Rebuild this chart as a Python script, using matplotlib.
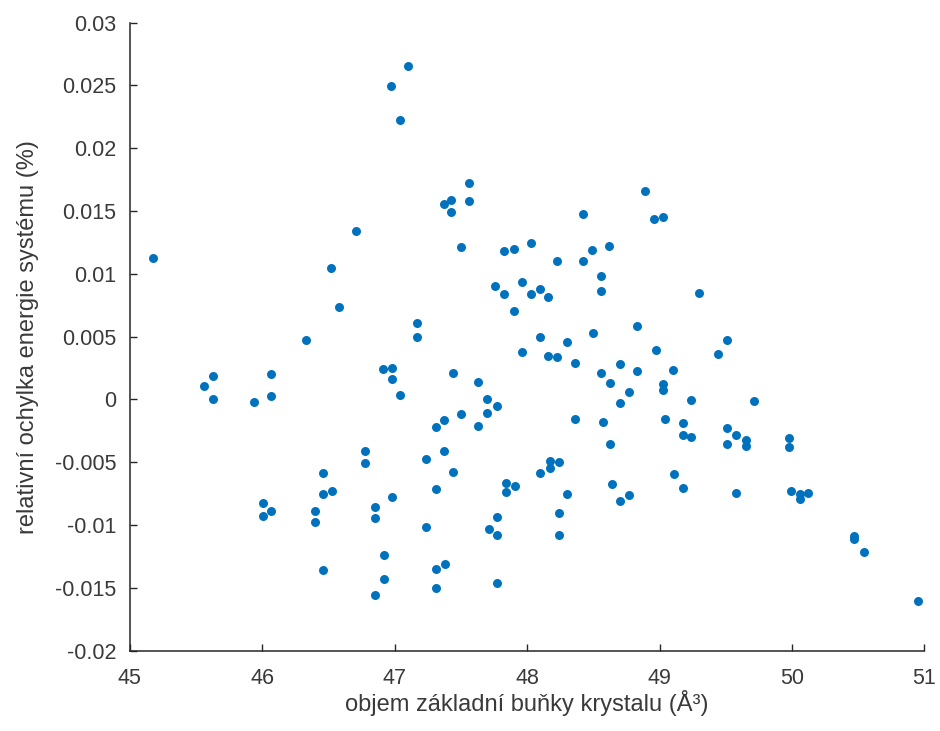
import matplotlib
matplotlib.use('Agg')

import matplotlib.pyplot as plt
from matplotlib.ticker import FuncFormatter

# unit cell volume (A^3) and relative energy deviation (%)
volume = [
    45.18, 45.56, 45.63, 45.63, 45.94, 46.07, 46.07, 46.01, 46.01, 46.07,
    46.33, 46.58, 46.52, 46.71, 46.40, 46.40, 46.46, 46.46, 46.53, 46.46,
    46.78, 46.78, 46.85, 46.85, 46.92, 46.92, 46.85, 46.91, 46.98, 46.98,
    47.04, 46.98, 47.17, 47.17, 46.97, 47.10, 47.04, 47.24, 47.24, 47.31,
    47.31, 47.31, 47.31, 47.37, 47.37, 47.38,
    47.56, 47.37, 47.43, 47.56, 47.43, 47.50, 48.42, 48.89, 48.96, 49.03,
    47.83, 47.90, 48.03, 48.62, 48.49, 48.23, 48.42, 48.56, 48.56, 47.76,
    47.83, 47.96, 48.03, 48.10, 48.16, 47.90, 49.30, 48.83,
    48.50, 48.10, 48.30, 47.96, 48.16, 48.23, 48.36, 48.97, 49.51, 49.44,
    47.44, 47.63, 47.70, 47.77, 47.70, 47.50, 47.63, 48.56, 48.70, 48.83,
    48.63, 48.77, 48.70, 49.10, 49.03, 49.03, 49.24, 49.71, 48.36, 48.57,
    48.63, 49.04, 49.18, 49.18, 49.24, 49.51, 49.58, 49.65, 49.65, 49.51,
    49.98, 49.98, 47.44, 48.17, 48.24, 48.17, 48.10, 47.84, 47.91, 47.84,
    48.30, 48.64, 48.77, 48.70, 49.11, 49.18, 49.58, 49.99, 50.06, 50.06,
    50.12, 47.77, 47.71, 47.77, 48.24, 48.24, 47.77, 50.47, 50.47, 50.54,
    50.95,
]
deviation = [
    0.01130, 0.00108, 0.00188, 0.00002, -0.00019, 0.00204, 0.00026, -0.00828, -0.00930, -0.00887,
    0.00470, 0.00733, 0.01044, 0.01343, -0.00892, -0.00975, -0.00587, -0.00749, -0.00730, -0.01354,
    -0.00412, -0.00505, -0.00860, -0.00943, -0.01240, -0.01426, -0.01557, 0.00241, 0.00252, 0.00159,
    0.00034, -0.00773, 0.00605, 0.00499, 0.02496, 0.02655, 0.02225, -0.00476, -0.01015, -0.00223,
    -0.00715, -0.01349, -0.01498, -0.00163, -0.00414, -0.01310,
    0.01725, 0.01556, 0.01585, 0.01582, 0.01490, 0.01216, 0.01476, 0.01659, 0.01436, 0.01450,
    0.01181, 0.01195, 0.01245, 0.01224, 0.01187, 0.01104, 0.01102, 0.00980, 0.00863, 0.00900,
    0.00841, 0.00937, 0.00841, 0.00879, 0.00813, 0.00706, 0.00847, 0.00584,
    0.00528, 0.00494, 0.00456, 0.00379, 0.00343, 0.00335, 0.00287, 0.00395, 0.00472, 0.00363,
    0.00210, 0.00138, 0.00000, -0.00056, -0.00104, -0.00112, -0.00215, 0.00212, 0.00279, 0.00223,
    0.00130, 0.00061, -0.00032, 0.00233, 0.00127, 0.00074, -0.00006, -0.00014, -0.00157, -0.00178,
    -0.00354, -0.00157, -0.00186, -0.00282, -0.00300, -0.00231, -0.00282, -0.00324, -0.00370, -0.00358,
    -0.00306, -0.00380, -0.00577, -0.00486, -0.00499, -0.00545, -0.00589, -0.00669, -0.00691, -0.00733,
    -0.00752, -0.00677, -0.00757, -0.00810, -0.00597, -0.00704, -0.00746, -0.00725, -0.00749, -0.00789,
    -0.00744, -0.00938, -0.01033, -0.01081, -0.00903, -0.01081, -0.01463, -0.01089, -0.01109, -0.01214,
    -0.01604,
]

x_ticks = [45, 46, 47, 48, 49, 50, 51]
y_ticks = [-0.02, -0.015, -0.01, -0.005, 0, 0.005, 0.01, 0.015, 0.02, 0.025, 0.03]

plt.rcParams['font.family'] = ['Liberation Sans', 'DejaVu Sans']
plt.rcParams['axes.unicode_minus'] = False

axis_col = '#262626'
text_col = '#3a3a3a'
fig = plt.figure(figsize=(9.4, 7.31), dpi=100)
ax = fig.add_axes([0.1378, 0.1099, 0.8457, 0.8591])

ax.scatter(volume, deviation, s=42, color='#0072BD', linewidths=0, zorder=3)

ax.set_xlim(45, 51)
ax.set_ylim(-0.02, 0.03)
ax.set_xticks(x_ticks)
ax.set_yticks(y_ticks)
ax.yaxis.set_major_formatter(FuncFormatter(lambda v, p: '%g' % round(v, 4)))

for side in ('top', 'right'):
    ax.spines[side].set_visible(False)
for side in ('left', 'bottom'):
    ax.spines[side].set_color(axis_col)
    ax.spines[side].set_linewidth(1.1)

ax.tick_params(direction='in', length=5, width=1.0, colors=axis_col,
               labelcolor=text_col, labelsize=15.5)
ax.tick_params(axis='x', pad=12.5)
ax.tick_params(axis='y', pad=9.5)

ax.set_xlabel('objem základní buňky krystalu (Å³)', fontsize=17, color=text_col)
ax.set_ylabel('relativní ochylka energie systému (%)', fontsize=17, color=text_col)
ax.xaxis.set_label_coords(0.5, -0.063)
ax.yaxis.set_label_coords(-0.114, 0.5)

fig.savefig('out.png', dpi=100)
